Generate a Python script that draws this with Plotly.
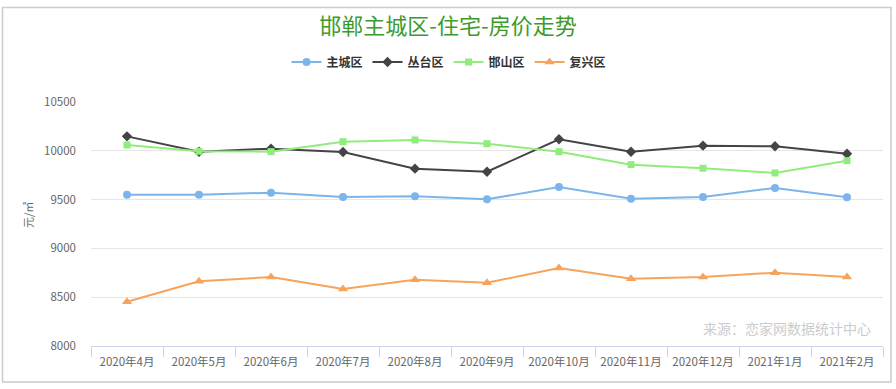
import plotly.graph_objects as go

months = ["2020年4月", "2020年5月", "2020年6月", "2020年7月", "2020年8月", "2020年9月",
          "2020年10月", "2020年11月", "2020年12月", "2021年1月", "2021年2月"]
zhucheng = [9550, 9550, 9571, 9527, 9534, 9503, 9629, 9509, 9527, 9619, 9523]
congtai = [10148, 9991, 10022, 9988, 9817, 9786, 10118, 9991, 10053, 10046, 9970]
hanshan = [10059, 9995, 9991, 10093, 10111, 10073, 9991, 9858, 9821, 9773, 9899]
fuxing = [8454, 8663, 8707, 8584, 8679, 8648, 8799, 8690, 8707, 8751, 8707]
ytick_vals = [8000, 8500, 9000, 9500, 10000, 10500]
ytick_text = ["8000", "8500", "9000", "9500", "10000", "10500"]

series = [
    ("主城区", zhucheng, "#7cb5ec", "circle", 8),
    ("丛台区", congtai, "#434348", "diamond", 8),
    ("邯山区", hanshan, "#90ed7d", "square", 7),
    ("复兴区", fuxing, "#f7a35c", "triangle-up", 9),
]

FONT = "Noto Sans CJK SC, Microsoft YaHei, sans-serif"

fig = go.Figure()
for name, vals, color, sym, size in series:
    fig.add_trace(go.Scatter(
        x=months, y=vals, name=name, mode="lines+markers",
        line=dict(color=color, width=2),
        marker=dict(symbol=sym, size=size, color=color),
    ))

W, H = 896, 389
L, R, T, B = 91, 13, 102, 43
pw, ph = W - L - R, H - T - B

def px(x):
    return (x - L) / pw

def py(y):
    return (H - B - y) / ph

fig.update_layout(
    width=W, height=H,
    margin=dict(l=L, r=R, t=T, b=B, autoexpand=False),
    paper_bgcolor="white", plot_bgcolor="white",
    font=dict(family=FONT, size=11, color="#666666"),
    title=dict(text="邯郸主城区-住宅-房价走势", x=0.5, xanchor="center",
               y=1 - 26 / H, yanchor="middle",
               font=dict(family=FONT, size=22, color="#3d9b2c")),
    legend=dict(orientation="h", x=px(449), xanchor="center", y=py(62), yanchor="middle",
                font=dict(family=FONT, size=12, color="#333333", weight="bold"),
                itemwidth=30, bgcolor="rgba(0,0,0,0)"),
    showlegend=True,
    xaxis=dict(type="category", tickson="boundaries", ticks="outside", ticklen=10,
               tickcolor="#ccd6eb", showline=True, linecolor="#ccd6eb", linewidth=1,
               showgrid=False, range=[-0.5, 10.5], fixedrange=True, automargin=False,
               ticklabelstandoff=5,
               tickfont=dict(family=FONT, size=11.5, color="#666666")),
    yaxis=dict(range=[8000, 10500], tickvals=ytick_vals, ticktext=ytick_text,
               showgrid=True, gridcolor="#e6e6e6", gridwidth=1, zeroline=False,
               showline=False, ticks="", ticklabelstandoff=14, automargin=False,
               fixedrange=True,
               tickfont=dict(family=FONT, size=11.5, color="#666666")),
    annotations=[
        dict(text="元/㎡", x=px(28), y=py(215), xref="paper", yref="paper",
             textangle=-90, showarrow=False, xanchor="center", yanchor="middle",
             font=dict(family=FONT, size=11, color="#666666")),
        dict(text="来源：恋家网数据统计中心", x=px(873), y=py(328), xref="paper", yref="paper",
             showarrow=False, xanchor="right", yanchor="middle",
             font=dict(family=FONT, size=14, color="#cccccc")),
    ],
    shapes=[
        dict(type="rect", xref="paper", yref="paper",
             x0=px(2.5), x1=px(891), y0=py(7.5), y1=py(382),
             line=dict(color="#cccccc", width=1.5), fillcolor="rgba(0,0,0,0)", layer="below"),
    ],
)

fig.write_html("out.html", config={"displayModeBar": False},
               post_script="document.body.style.margin='0';document.body.style.overflow='hidden';")
